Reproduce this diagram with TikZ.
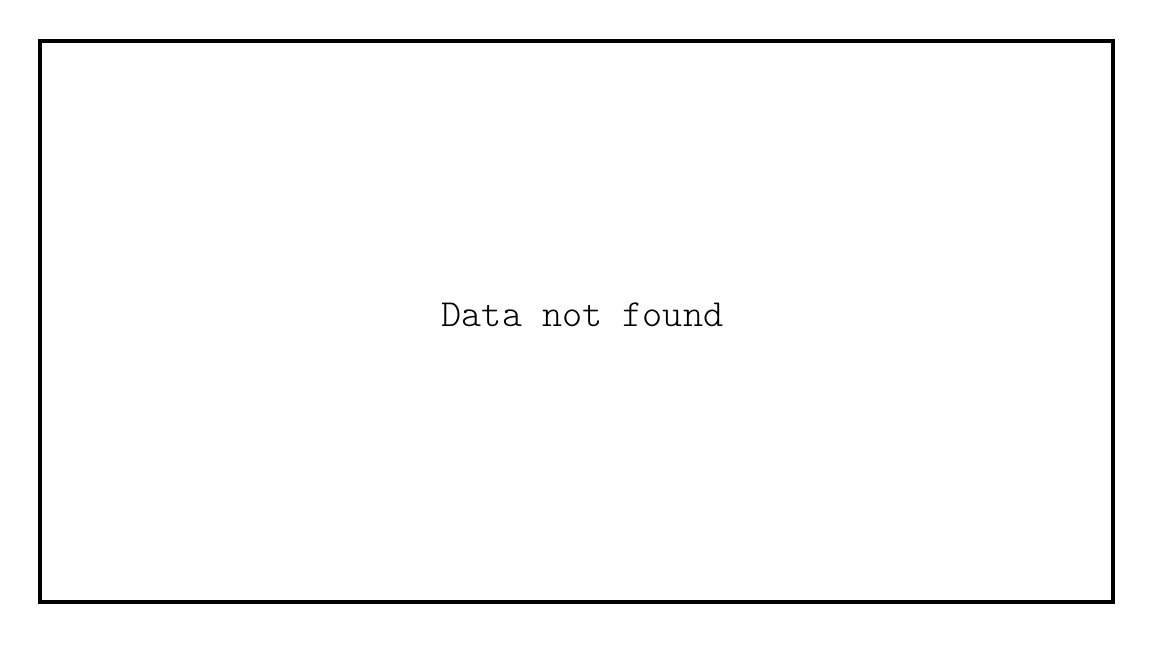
\documentclass[tikz,border=0pt]{standalone}
\usepackage{fontspec}
\setmonofont{Latin Modern Mono Light}
\usepackage{tikz}
\usetikzlibrary{positioning}

\begin{document}
\begin{tikzpicture}
			%%%%% START %%%%%
			
			\useasboundingbox (0, 0) rectangle (11.52, 6.48);
			
			\draw[line width=1.2pt, color=black] (0.40, 0.46) rectangle (11.13, 6.07);
			
			\node[anchor=base, inner sep=0pt, font=\ttfamily\fontsize{10.9}{13}\selectfont] (msg) at (5.825, 3.21) {Data not found};
			
			%%%%% END %%%%%
		\end{tikzpicture}
\end{document}
